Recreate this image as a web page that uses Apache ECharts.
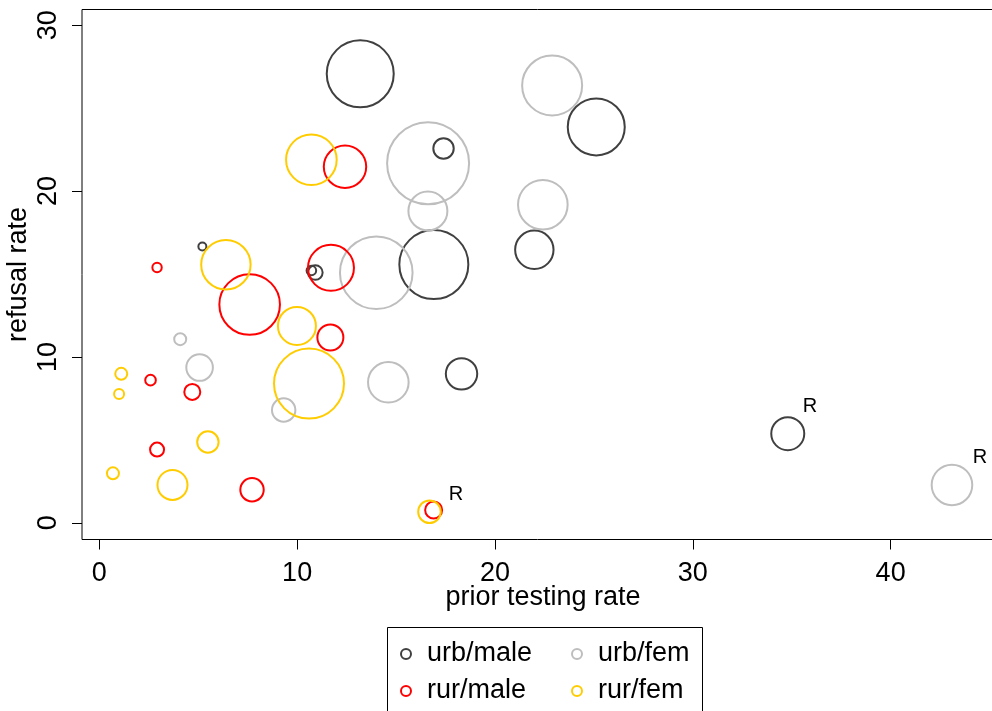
<!DOCTYPE html>
<html>
<head>
<meta charset="utf-8">
<script src="https://cdn.jsdelivr.net/npm/echarts@6/dist/echarts.min.js"></script>
<style>
html,body{margin:0;padding:0;background:#fff;}
#chart{width:992px;height:711px;}
</style>
</head>
<body>
<div id="chart"></div>
<script>
// ---- data ----
const xTicks = [0, 10, 20, 30, 40];
const yTicks = [0, 10, 20, 30];

const seriesNames = ['urb/male', 'urb/fem', 'rur/male', 'rur/fem'];

const urbMaleX = [13.19, 25.12, 17.40, 21.99, 16.91, 10.72, 10.92, 5.21, 18.31, 34.80];
const urbMaleY = [27.07, 23.87, 22.57, 16.46, 15.57, 15.21, 15.09, 16.66, 8.98, 5.37];
const urbMaleSize = [33.5, 28.5, 10.2, 19.2, 34.5, 4.8, 7.3, 4.0, 15.7, 16.5];

const urbFemX = [22.89, 16.62, 22.42, 16.61, 14.00, 4.09, 5.07, 9.32, 14.61, 43.10];
const urbFemY = [26.37, 21.68, 19.18, 18.80, 15.08, 11.07, 9.36, 6.80, 8.47, 2.28];
const urbFemSize = [30, 41, 24.8, 19.5, 36.3, 6, 13.3, 11.7, 20.3, 20.3];

const rurMaleX = [12.42, 11.71, 2.92, 7.60, 11.68, 2.59, 4.70, 2.92, 7.72, 16.90];
const rurMaleY = [21.47, 15.37, 15.39, 13.16, 11.17, 8.60, 7.89, 4.41, 1.99, 0.77];
const rurMaleSize = [21.2, 23, 4.7, 30.3, 13, 5.3, 8, 7, 11.7, 8.5];

const rurFemX = [10.72, 6.40, 9.99, 10.60, 1.11, 1.00, 5.49, 0.69, 3.70, 16.69];
const rurFemY = [21.89, 15.56, 11.87, 8.39, 8.98, 7.77, 4.87, 2.98, 2.28, 0.66];
const rurFemSize = [25.3, 24.7, 19, 35, 6, 5, 10.7, 6, 15, 11.3];

// "R" annotations
const noteX = [35.92, 44.51, 18.03];
const noteY = [7.00, 3.91, 1.72];
const noteText = ['R', 'R', 'R'];

// ---- build ----
const FONT = '"Liberation Sans", Arial, Helvetica, sans-serif';
const colors = ['#404040', '#BEBEBE', '#FF0000', '#FFCC00'];
const groups = [
  [urbMaleX, urbMaleY, urbMaleSize],
  [urbFemX, urbFemY, urbFemSize],
  [rurMaleX, rurMaleY, rurMaleSize],
  [rurFemX, rurFemY, rurFemSize]
];

function zip(xs, ys, ss) { return xs.map((x, i) => [x, ys[i], ss[i]]); }

const series = groups.map((g, k) => ({
  name: seriesNames[k],
  type: 'scatter',
  symbol: 'circle',
  data: zip(g[0], g[1], g[2]),
  symbolSize: v => 2 * v[2],
  itemStyle: { color: 'rgba(0,0,0,0)', borderColor: colors[k], borderWidth: 2, opacity: 1 },
  emphasis: { disabled: true },
  silent: true,
  z: 2
}));

series.push({
  name: 'notes',
  type: 'scatter',
  symbol: 'circle',
  symbolSize: 1,
  itemStyle: { color: 'rgba(0,0,0,0)', opacity: 1 },
  data: noteX.map((x, i) => ({ value: [x, noteY[i]], label: { formatter: noteText[i] } })),
  label: { show: true, position: 'inside', color: '#000000', opacity: 1, textBorderWidth: 0, fontSize: 20, fontFamily: FONT },
  emphasis: { disabled: true },
  silent: true,
  z: 3
});

const legendCommon = {
  orient: 'vertical',
  top: 639,
  padding: 0,
  itemWidth: 10,
  itemHeight: 10,
  itemGap: 7,
  icon: 'circle',
  selectedMode: false,
  itemStyle: { color: 'rgba(0,0,0,0)', borderWidth: 2 },
  textStyle: { fontSize: 27, fontFamily: FONT, color: '#000', lineHeight: 30, padding: [0, 0, 0, 11] }
};

const option = {
  animation: false,
  backgroundColor: '#fff',
  grid: { left: 82, top: 9.5, right: -12, bottom: 171.5, show: true, borderColor: '#000', borderWidth: 1, outerBoundsMode: 'none' },
  xAxis: {
    type: 'value', min: -0.874, max: 45.73,
    name: 'prior testing rate', nameLocation: 'middle', nameGap: 45, nameMoveOverlap: false,
    nameTextStyle: { fontSize: 27, fontFamily: FONT, color: '#000' },
    axisLine: { show: false, onZero: false },
    splitLine: { show: false },
    axisTick: { show: true, inside: false, length: 10, customValues: xTicks, lineStyle: { color: '#000', width: 1 } },
    axisLabel: { customValues: xTicks, fontSize: 27, fontFamily: FONT, color: '#000', margin: 21 }
  },
  yAxis: {
    type: 'value', min: -1.01, max: 30.95,
    name: 'refusal rate', nameLocation: 'middle', nameGap: 50, nameRotate: 90, nameMoveOverlap: false,
    nameTextStyle: { fontSize: 27, fontFamily: FONT, color: '#000' },
    axisLine: { show: false, onZero: false },
    splitLine: { show: false },
    axisTick: { show: true, inside: false, length: 10, customValues: yTicks, lineStyle: { color: '#000', width: 1 } },
    axisLabel: { customValues: yTicks, rotate: 90, fontSize: 27, fontFamily: FONT, color: '#000', margin: 20 }
  },
  legend: [
    Object.assign({}, legendCommon, { left: 400, data: ['urb/male', 'rur/male'] }),
    Object.assign({}, legendCommon, { left: 571, data: ['urb/fem', 'rur/fem'] })
  ],
  graphic: [{
    type: 'rect', silent: true, z: 0,
    shape: { x: 387.5, y: 627.5, width: 315, height: 100 },
    style: { fill: 'none', stroke: '#000', lineWidth: 1 }
  }],
  series: series
};

const chart = echarts.init(document.getElementById('chart'), null, { renderer: 'canvas' });
chart.setOption(option);
</script>
</body>
</html>
